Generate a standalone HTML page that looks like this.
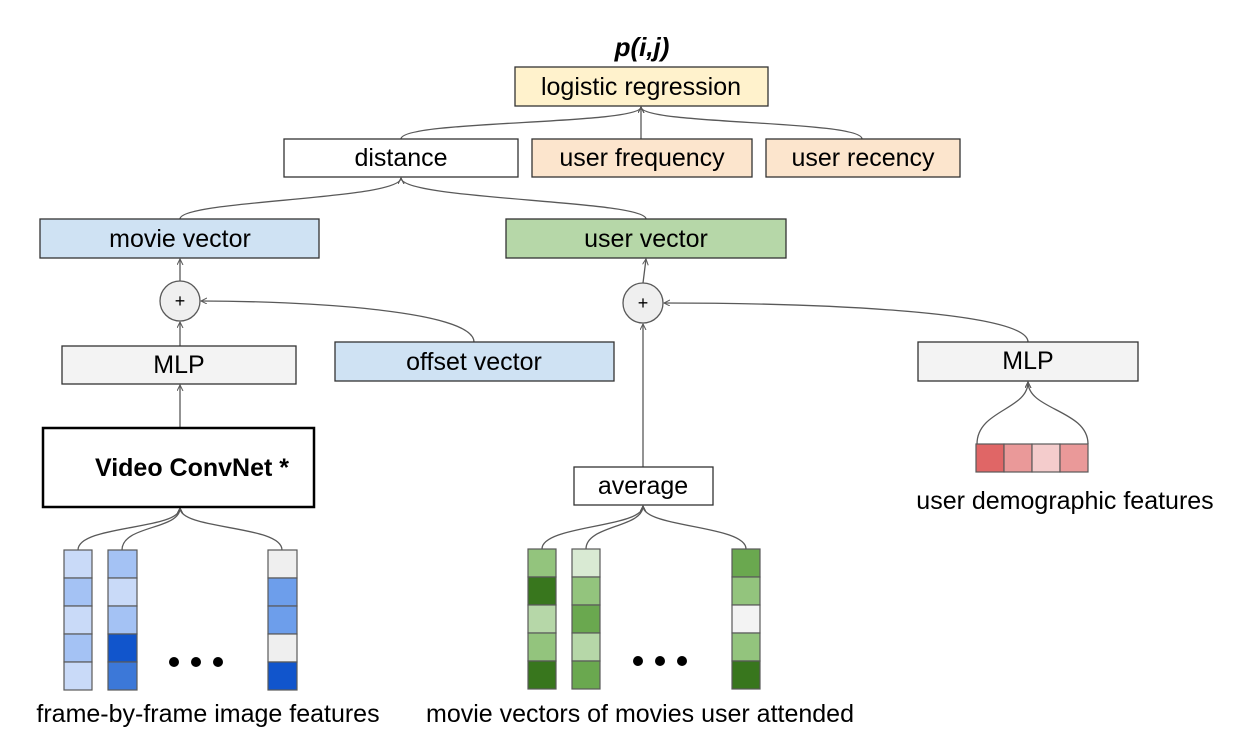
<!DOCTYPE html>
<html><head><meta charset="utf-8"><style>
html,body{margin:0;padding:0;background:#fff;}
svg{display:block;}
text{font-family:"Liberation Sans",Arial,sans-serif;fill:#000;}
</style></head><body>
<svg width="1248" height="730" viewBox="0 0 1248 730" xmlns="http://www.w3.org/2000/svg">
<defs>
<marker id="a" markerWidth="8" markerHeight="8" refX="6" refY="3" orient="auto" markerUnits="userSpaceOnUse">
<path d="M0,0 L6,3 L0,6" fill="none" stroke="#595959" stroke-width="1"/>
</marker>
</defs>
<g fill="none" stroke="#595959" stroke-width="1.3" marker-end="url(#a)">
<path d="M401,139 C401,120 641,125 641,107"/>
<path d="M641,139 L641,107"/>
<path d="M862,139 C862,120 641,125 641,107"/>
<path d="M180,219 C180,200 401,200 401,178"/>
<path d="M646,219 C646,200 401,200 401,178"/>
<path d="M180,281 L180,259"/>
<path d="M180,346 L180,322"/>
<path d="M474,342 C474,310 300,301 201,301"/>
<path d="M180,428 L180,385"/>
<path d="M78,550 C78,525 180,530 180,508"/>
<path d="M122,550 C122,525 180,530 180,508"/>
<path d="M282,550 C282,525 180,530 180,508"/>
<path d="M643,283 L646,259"/>
<path d="M643,467 L643,324"/>
<path d="M1028,342 C1028,310 800,303 664,303"/>
<path d="M977,444 C977,410 1028,410 1028,382"/>
<path d="M1088,444 C1088,410 1028,410 1028,382"/>
<path d="M542,549 C542,525 643,528 643,506"/>
<path d="M586,549 C586,525 643,528 643,506"/>
<path d="M746,549 C746,525 643,528 643,506"/>
</g>
<g stroke="#333" stroke-width="1.3">
<rect x="515" y="67" width="253" height="39" fill="#fff2cc"/>
<rect x="284" y="139" width="234" height="38" fill="#fff"/>
<rect x="532" y="139" width="220" height="38" fill="#fce5cd"/>
<rect x="766" y="139" width="194" height="38" fill="#fce5cd"/>
<rect x="40" y="219" width="279" height="39" fill="#cfe2f3"/>
<rect x="506" y="219" width="280" height="39" fill="#b6d7a8"/>
<rect x="62" y="346" width="234" height="38" fill="#f3f3f3"/>
<rect x="335" y="342" width="279" height="39" fill="#cfe2f3"/>
<rect x="918" y="342" width="220" height="39" fill="#f3f3f3"/>
<rect x="574" y="467" width="139" height="38" fill="#fff"/>
<rect x="43" y="428" width="271" height="79" fill="#fff" stroke="#000" stroke-width="2.5"/>
</g>
<g stroke="#595959" stroke-width="1.3" fill="#efefef">
<circle cx="180" cy="301" r="20"/>
<circle cx="643" cy="303" r="20"/>
</g>
<g stroke="#595959" stroke-width="1.2">
<rect x="64" y="550" width="28" height="28" fill="#c9daf8"/>
<rect x="64" y="578" width="28" height="28" fill="#a4c2f4"/>
<rect x="64" y="606" width="28" height="28" fill="#c9daf8"/>
<rect x="64" y="634" width="28" height="28" fill="#a4c2f4"/>
<rect x="64" y="662" width="28" height="28" fill="#c9daf8"/>
<rect x="108" y="550" width="29" height="28" fill="#a4c2f4"/>
<rect x="108" y="578" width="29" height="28" fill="#c9daf8"/>
<rect x="108" y="606" width="29" height="28" fill="#a4c2f4"/>
<rect x="108" y="634" width="29" height="28" fill="#1155cc"/>
<rect x="108" y="662" width="29" height="28" fill="#3c78d8"/>
<rect x="268" y="550" width="29" height="28" fill="#efefef"/>
<rect x="268" y="578" width="29" height="28" fill="#6d9eeb"/>
<rect x="268" y="606" width="29" height="28" fill="#6d9eeb"/>
<rect x="268" y="634" width="29" height="28" fill="#efefef"/>
<rect x="268" y="662" width="29" height="28" fill="#1155cc"/>
<rect x="528" y="549" width="28" height="28" fill="#93c47d"/>
<rect x="528" y="577" width="28" height="28" fill="#38761d"/>
<rect x="528" y="605" width="28" height="28" fill="#b6d7a8"/>
<rect x="528" y="633" width="28" height="28" fill="#93c47d"/>
<rect x="528" y="661" width="28" height="28" fill="#38761d"/>
<rect x="572" y="549" width="28" height="28" fill="#d9ead3"/>
<rect x="572" y="577" width="28" height="28" fill="#93c47d"/>
<rect x="572" y="605" width="28" height="28" fill="#6aa84f"/>
<rect x="572" y="633" width="28" height="28" fill="#b6d7a8"/>
<rect x="572" y="661" width="28" height="28" fill="#6aa84f"/>
<rect x="732" y="549" width="28" height="28" fill="#6aa84f"/>
<rect x="732" y="577" width="28" height="28" fill="#93c47d"/>
<rect x="732" y="605" width="28" height="28" fill="#f3f3f3"/>
<rect x="732" y="633" width="28" height="28" fill="#93c47d"/>
<rect x="732" y="661" width="28" height="28" fill="#38761d"/>
<rect x="976" y="444" width="28" height="28" fill="#e06666"/>
<rect x="1004" y="444" width="28" height="28" fill="#ea9999"/>
<rect x="1032" y="444" width="28" height="28" fill="#f4cccc"/>
<rect x="1060" y="444" width="28" height="28" fill="#ea9999"/>
</g>
<g fill="#000">
<circle cx="174" cy="662" r="5"/><circle cx="196" cy="662" r="5"/><circle cx="218" cy="662" r="5"/>
<circle cx="638" cy="661" r="5"/><circle cx="660" cy="661" r="5"/><circle cx="682" cy="661" r="5"/>
</g>
<g font-size="25" text-anchor="middle">
<text x="642" y="56" font-weight="bold" font-style="italic" font-size="26">p(i,j)</text>
<text x="641" y="95">logistic regression</text>
<text x="401" y="166">distance</text>
<text x="642" y="166">user frequency</text>
<text x="863" y="166">user recency</text>
<text x="180" y="247">movie vector</text>
<text x="646" y="247">user vector</text>
<text x="180" y="307" font-size="18">+</text>
<text x="643" y="309" font-size="18">+</text>
<text x="179" y="373">MLP</text>
<text x="474" y="370">offset vector</text>
<text x="1028" y="369">MLP</text>
<text x="192" y="476" font-weight="bold" font-size="25">Video ConvNet *</text>
<text x="643" y="494">average</text>
<text x="1065" y="509">user demographic features</text>
<text x="208" y="722">frame-by-frame image features</text>
<text x="640" y="722">movie vectors of movies user attended</text>
</g>
</svg>
</body></html>
